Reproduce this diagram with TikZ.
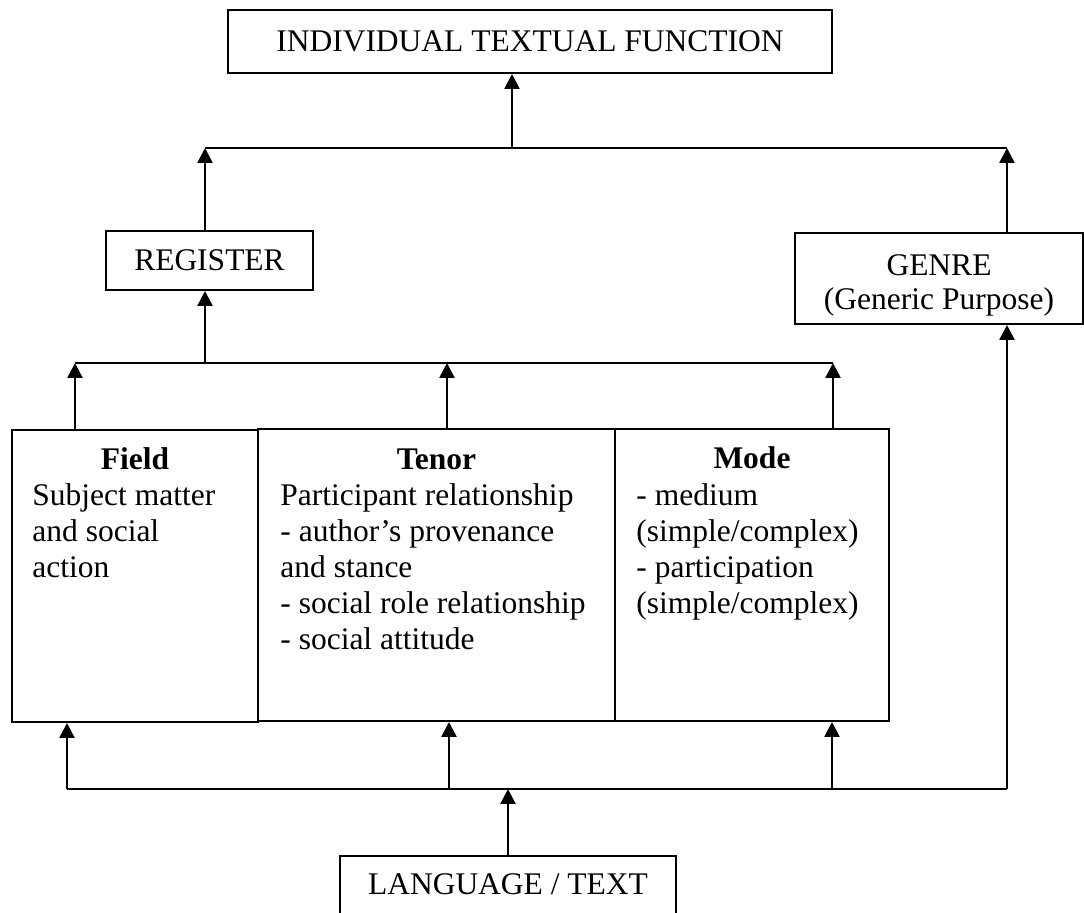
\documentclass[tikz,border=0pt]{standalone}
\usepackage{fontspec}
\setmainfont{Liberation Serif}
\usetikzlibrary{arrows.meta}
\begin{document}
\begin{tikzpicture}[x=0.5pt,y=-0.5pt,
  box/.style={draw, line width=1pt, inner sep=0pt},
  conn/.style={line width=1.3pt},
  up/.style={conn, -{Triangle[length=7.5pt,width=7.5pt]}},
  txt/.style={inner sep=0pt, font=\fontsize{15.75}{18}\selectfont},
  line/.style={txt, anchor=base west},
  head/.style={txt, anchor=base, font=\fontsize{15.75}{18}\selectfont\bfseries},
]
\useasboundingbox (0,0) rectangle (1084,913);
\clip (0,0) rectangle (1084,913);

% boxes
\node[box, txt, minimum width=302pt, minimum height=31.5pt] (title) at (530,41.5) {INDIVIDUAL TEXTUAL FUNCTION};
\node[box, txt, minimum width=103.5pt, minimum height=29.5pt] (register) at (209.5,260.5) {REGISTER};
\node[box, minimum width=144pt, minimum height=45.5pt] (genre) at (939,278.5) {};
\node[txt, anchor=base] (genre1) at (939,276) {GENRE};
\node[txt, anchor=base] (genre2) at (939,310) {(Generic Purpose)};
\node[box, minimum width=123pt, minimum height=146pt] (field) at (135,576) {};
\node[box, minimum width=178.5pt, minimum height=146pt] (tenor) at (436.5,575) {};
\node[box, minimum width=137pt, minimum height=146pt] (mode) at (752,575) {};
\node[box, minimum width=168pt, minimum height=52pt] (lang) at (508,908) {};
\node[txt, anchor=base] (langtxt) at (508,895) {LANGUAGE / TEXT};

% box contents
\node[head] (fieldhead) at (135,470) {Field};
\foreach \t [count=\i] in {Subject matter, and social, action}
  \node[line] (fieldl\i) at (32,470+36*\i) {\t};
\node[head] (tenorhead) at (436.5,470) {Tenor};
\foreach \t [count=\i] in {Participant relationship, - author’s provenance, and stance, - social role relationship, - social attitude}
  \node[line] (tenorl\i) at (280,470+36*\i) {\t};
\node[head] (modehead) at (752,469) {Mode};
\foreach \t [count=\i] in {- medium, (simple/complex), - participation, (simple/complex)}
  \node[line] (model\i) at (636,470+36*\i) {\t};

% upper junction
\coordinate (t1) at (205,148);
\coordinate (tm) at (512,148);
\coordinate (t2) at (1007,148);
\draw[conn] (t1) -- (t2);
\draw[up] (tm) -- (tm |- title.south);
\draw[up] (register.north -| t1) -- (t1);
\draw[up] (genre.north -| t2) -- (t2);

% middle junction
\coordinate (m1) at (75,363);
\coordinate (mr) at (205,363);
\coordinate (mt) at (447,363);
\coordinate (m2) at (833,363);
\draw[conn] (m1) -- (m2);
\draw[up] (mr) -- (mr |- register.south);
\draw[up] (field.north -| m1) -- (m1);
\draw[up] (tenor.north -| mt) -- (mt);
\draw[up] (mode.north -| m2) -- (m2);

% lower junction
\coordinate (b1) at (67,789);
\coordinate (b2) at (449,789);
\coordinate (bm) at (508,789);
\coordinate (b3) at (832,789);
\coordinate (b4) at (1007,789);
\draw[conn] (b1) -- (b4);
\draw[up] (b1) -- (b1 |- field.south);
\draw[up] (b2) -- (b2 |- tenor.south);
\draw[up] (b3) -- (b3 |- mode.south);
\draw[up] (b4) -- (b4 |- genre.south);
\draw[up] (lang.north -| bm) -- (bm);
\end{tikzpicture}
\end{document}
